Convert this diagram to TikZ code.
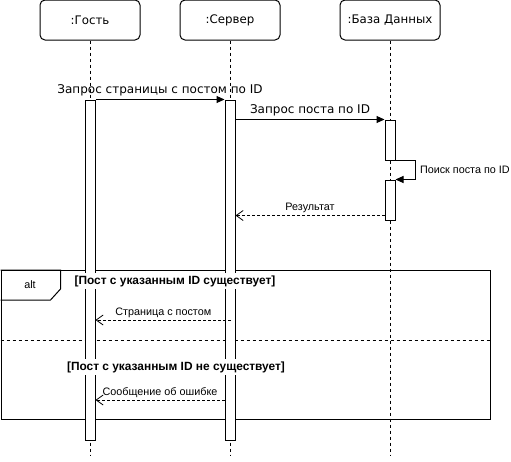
\documentclass[tikz,border=0pt]{standalone}
\usepackage{fontspec}
\setmainfont{Liberation Sans}
\newfontfamily\headfont{DejaVu Sans}
\usetikzlibrary{arrows.meta}

\tikzset{
  participant/.style={draw, line width=1pt, rounded corners=5pt, fill=white,
    minimum width=100pt, minimum height=40pt, inner sep=0pt,
    font=\headfont\fontsize{11.8}{14}\selectfont},
  lifeline/.style={line width=0.8pt, dash pattern=on 3pt off 3pt},
  activation/.style={draw, line width=1pt, fill=white, minimum width=10pt,
    inner sep=0pt},
  sync/.style={line width=1pt, -{Triangle[length=8pt,width=7pt]}},
  reply/.style={line width=0.8pt, dash pattern=on 3pt off 2pt,
    -{Straight Barb[length=7pt,width=10pt,line width=0.8pt]}},
  msglabel/.style={font=\headfont\fontsize{12}{14}\selectfont, inner sep=2pt},
  smalllabel/.style={font=\fontsize{10.8}{13}\selectfont, inner sep=2pt},
  frame/.style={draw, line width=1pt, inner sep=0pt},
  guard/.style={fill=white, inner sep=2pt, font=\bfseries\fontsize{11.9}{14}\selectfont},
}

\begin{document}
\begin{tikzpicture}[x=1pt, y=-1pt]
  \useasboundingbox (0,0) rectangle (511,461);

  % participants and their lifelines
  \node[participant] (guest)  at (90,20)  {:Гость};
  \node[participant] (server) at (230,20) {:Сервер};
  \node[participant] (db)     at (390,20) {:База Данных};

  \coordinate (guestEnd)  at (90,456);
  \coordinate (serverEnd) at (230,456);
  \coordinate (dbEnd)     at (390,456);
  \draw[lifeline] (guest.south)  -- (guestEnd);
  \draw[lifeline] (server.south) -- (serverEnd);
  \draw[lifeline] (db.south)     -- (dbEnd);

  % combined fragment "alt"
  \node[frame, anchor=north west, minimum width=489.5pt, minimum height=149pt]
    (altframe) at (0.5,270) {};
  \draw[line width=1pt] (altframe.north west) -- ++(60,0) -- ++(0,19)
    -- ++(-10,11) -- ++(-50,0);
  \node[font=\fontsize{10.8}{12}\selectfont] (altlabel) at (30,285) {alt};
  \coordinate (sepL) at (0.5,340);
  \coordinate (sepR) at (490,340);
  \draw[line width=0.8pt, dash pattern=on 3pt off 3pt] (sepL) -- (sepR);

  % activation bars
  \node[activation, minimum height=340pt] (gact)  at (90,270)  {};
  \node[activation, minimum height=340pt] (sact)  at (230,270) {};
  \node[activation, minimum height=40pt]  (dact1) at (390,140) {};
  \node[activation, minimum height=40pt]  (dact2) at (390,200) {};

  % guards
  \node[guard] (guard1) at (175,281) {[Пост с указанным ID существует]};
  \node[guard] (guard2) at (176,367) {[Пост с указанным ID не существует]};

  % messages
  \draw[sync] (gact.north east) -- (sact.north west)
    node[midway, above, msglabel, yshift=1pt] {Запрос страницы с постом по ID};

  \draw[sync] (sact.east |- dact1.north) -- (dact1.north west)
    node[midway, above, msglabel, yshift=1pt] {Запрос поста по ID};

  \draw[sync] (dact1.south east) -- ++(20,0) |- (dact2.north east)
    node[pos=0.25, right, smalllabel, xshift=2pt] {Поиск поста по ID};

  \coordinate (res) at ([yshift=5pt]dact2.south west);
  \draw[reply] (res) -- (sact.east |- res)
    node[midway, above, smalllabel] {Результат};

  \coordinate (pageFrom) at (231,320);
  \draw[reply] (pageFrom) -- (gact.east |- pageFrom)
    node[midway, above, smalllabel] {Страница с постом};

  \coordinate (errFrom) at (sact.west |- 0,400);
  \draw[reply] (errFrom) -- (gact.east |- errFrom)
    node[midway, above, smalllabel] {Сообщение об ошибке};
\end{tikzpicture}
\end{document}
